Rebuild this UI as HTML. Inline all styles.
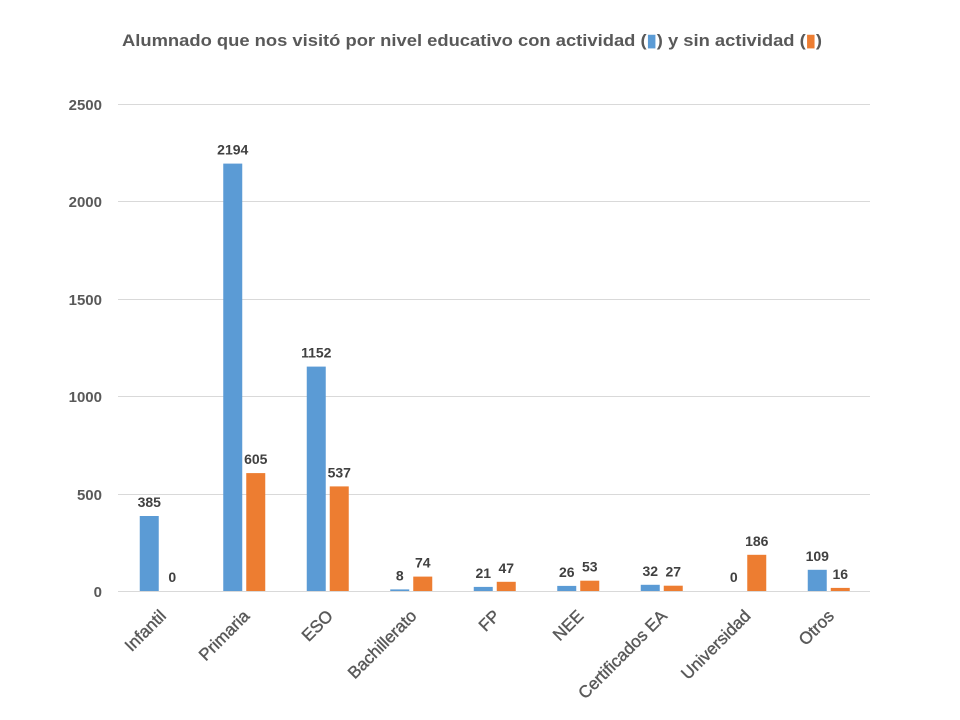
<!DOCTYPE html>
<html><head><meta charset="utf-8"><style>
html,body{margin:0;padding:0;background:#fff;}
svg{display:block;font-family:"Liberation Sans",sans-serif;}
</style></head><body>
<svg width="960" height="720" viewBox="0 0 960 720">
<text x="472" y="46" text-anchor="middle" font-size="17" font-weight="bold" fill="#595959" textLength="700" lengthAdjust="spacingAndGlyphs">Alumnado que nos visitó por nivel educativo con actividad (<tspan fill="#5b9bd5">▮</tspan>) y sin actividad (<tspan fill="#ed7d31">▮</tspan>)</text>
<g stroke="#d9d9d9" stroke-width="1">
<line x1="118" x2="870" y1="104.5" y2="104.5"/>
<line x1="118" x2="870" y1="201.5" y2="201.5"/>
<line x1="118" x2="870" y1="299.5" y2="299.5"/>
<line x1="118" x2="870" y1="396.5" y2="396.5"/>
<line x1="118" x2="870" y1="494.5" y2="494.5"/>
<line x1="118" x2="870" y1="591.5" y2="591.5"/>
</g>
<g font-size="15" font-weight="bold" fill="#595959" text-anchor="end">
<text x="102" y="110">2500</text>
<text x="102" y="207">2000</text>
<text x="102" y="305">1500</text>
<text x="102" y="402">1000</text>
<text x="102" y="500">500</text>
<text x="102" y="597">0</text>
</g>
<g fill="#5b9bd5">
<rect x="139.75" y="516" width="19" height="75"/>
<rect x="223.25" y="163.6" width="19" height="427.4"/>
<rect x="306.75" y="366.6" width="19" height="224.4"/>
<rect x="390.25" y="589.4" width="19" height="1.6"/>
<rect x="473.75" y="586.9" width="19" height="4.1"/>
<rect x="557.25" y="585.9" width="19" height="5.1"/>
<rect x="640.75" y="584.8" width="19" height="6.2"/>
<rect x="807.75" y="569.8" width="19" height="21.2"/>
</g>
<g fill="#ed7d31">
<rect x="246.25" y="473.1" width="19" height="117.9"/>
<rect x="329.75" y="486.4" width="19" height="104.6"/>
<rect x="413.25" y="576.6" width="19" height="14.4"/>
<rect x="496.75" y="581.8" width="19" height="9.2"/>
<rect x="580.25" y="580.7" width="19" height="10.3"/>
<rect x="663.75" y="585.7" width="19" height="5.3"/>
<rect x="747.25" y="554.8" width="19" height="36.2"/>
<rect x="830.75" y="587.9" width="19" height="3.1"/>
</g>
<g font-size="14" font-weight="bold" fill="#404040" text-anchor="middle">
<text x="149.25" y="507">385</text>
<text x="232.75" y="154.6">2194</text>
<text x="316.25" y="357.6">1152</text>
<text x="399.75" y="580.4">8</text>
<text x="483.25" y="577.9">21</text>
<text x="566.75" y="576.9">26</text>
<text x="650.25" y="575.8">32</text>
<text x="733.75" y="582">0</text>
<text x="817.25" y="560.8">109</text>
<text x="172.25" y="582">0</text>
<text x="255.75" y="464.1">605</text>
<text x="339.25" y="477.4">537</text>
<text x="422.75" y="567.6">74</text>
<text x="506.25" y="572.8">47</text>
<text x="589.75" y="571.7">53</text>
<text x="673.25" y="576.7">27</text>
<text x="756.75" y="545.8">186</text>
<text x="840.25" y="578.9">16</text>
</g>
<g font-size="17" fill="#595959" text-anchor="end" stroke="#595959" stroke-width="0.4">
<text transform="translate(167,617) rotate(-45)">Infantil</text>
<text transform="translate(250.5,617) rotate(-45)">Primaria</text>
<text transform="translate(334,617) rotate(-45)">ESO</text>
<text transform="translate(417.5,617) rotate(-45)">Bachillerato</text>
<text transform="translate(501,617) rotate(-45)">FP</text>
<text transform="translate(584.5,617) rotate(-45)">NEE</text>
<text transform="translate(668,617) rotate(-45)">Certificados EA</text>
<text transform="translate(751.5,617) rotate(-45)">Universidad</text>
<text transform="translate(835,617) rotate(-45)">Otros</text>
</g>
</svg>
</body></html>
